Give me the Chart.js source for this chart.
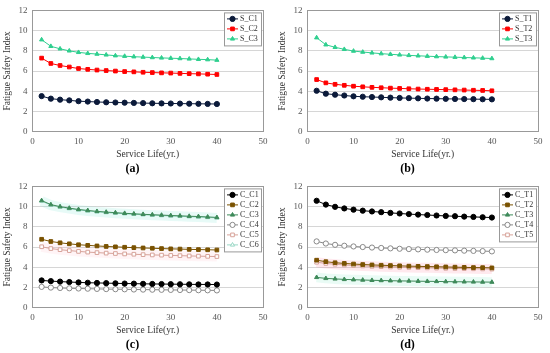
<!DOCTYPE html>
<html>
<head>
<meta charset="utf-8">
<script src="https://cdn.jsdelivr.net/npm/chart.js@4"></script>
<style>
  body { margin: 0; background: #fff; }
  #grid { display: grid; grid-template-columns: 275px 275px; grid-template-rows: 176px 177px; width: 550px; height: 353px; }
  .cell { position: relative; width: 275px; height: 176px; }
</style>
</head>
<body>
<div id="grid">
  <div class="cell"><canvas id="ca" width="275" height="176"></canvas></div>
  <div class="cell"><canvas id="cb" width="275" height="176"></canvas></div>
  <div class="cell"><canvas id="cc" width="275" height="176"></canvas></div>
  <div class="cell"><canvas id="cd" width="275" height="176"></canvas></div>
</div>
<script>
// service life (yr.)
const years = [2, 4, 6, 8, 10, 12, 14, 16, 18, 20, 22, 24, 26, 28, 30, 32, 34, 36, 38, 40];
const yTicks = [0, 2, 4, 6, 8, 10, 12];
const xTicks = [0, 10, 20, 30, 40, 50];

// (a)
const S_C1 = [3.52, 3.27, 3.17, 3.1, 3.02, 2.98, 2.94, 2.91, 2.89, 2.87, 2.85, 2.83, 2.81, 2.8, 2.79, 2.78, 2.77, 2.76, 2.75, 2.74];
const S_C2 = [7.28, 6.75, 6.55, 6.4, 6.25, 6.17, 6.1, 6.05, 6.0, 5.95, 5.92, 5.88, 5.85, 5.82, 5.8, 5.77, 5.74, 5.72, 5.69, 5.66];
const S_C3 = [9.1, 8.45, 8.2, 8.0, 7.85, 7.75, 7.68, 7.6, 7.52, 7.47, 7.42, 7.38, 7.34, 7.3, 7.27, 7.24, 7.2, 7.16, 7.13, 7.08];
// (b)
const S_T1 = [4.05, 3.76, 3.66, 3.58, 3.5, 3.46, 3.43, 3.4, 3.37, 3.34, 3.32, 3.3, 3.28, 3.27, 3.25, 3.24, 3.23, 3.22, 3.21, 3.2];
const S_T2 = [5.16, 4.83, 4.69, 4.59, 4.5, 4.44, 4.39, 4.35, 4.31, 4.28, 4.25, 4.22, 4.2, 4.18, 4.16, 4.14, 4.12, 4.1, 4.08, 4.05];
const S_T3 = [9.3, 8.6, 8.35, 8.15, 7.98, 7.88, 7.8, 7.72, 7.66, 7.6, 7.55, 7.51, 7.47, 7.43, 7.4, 7.37, 7.34, 7.31, 7.28, 7.24];
// (c)
const C_C1 = [2.7, 2.63, 2.58, 2.54, 2.5, 2.47, 2.45, 2.43, 2.41, 2.39, 2.38, 2.36, 2.35, 2.34, 2.33, 2.32, 2.31, 2.3, 2.3, 2.29];
const C_C2 = [6.77, 6.55, 6.42, 6.32, 6.23, 6.17, 6.11, 6.06, 6.02, 5.98, 5.94, 5.91, 5.88, 5.85, 5.82, 5.8, 5.77, 5.75, 5.73, 5.71];
const C_C3 = [10.6, 10.2, 10.0, 9.85, 9.72, 9.62, 9.53, 9.46, 9.4, 9.34, 9.29, 9.24, 9.2, 9.16, 9.12, 9.09, 9.05, 9.02, 8.98, 8.93];
const C_C4 = [2.06, 1.99, 1.95, 1.92, 1.9, 1.88, 1.86, 1.84, 1.83, 1.82, 1.8, 1.79, 1.78, 1.77, 1.76, 1.75, 1.74, 1.73, 1.72, 1.71];
const C_C5 = [6.03, 5.85, 5.74, 5.65, 5.57, 5.5, 5.45, 5.4, 5.36, 5.32, 5.29, 5.25, 5.22, 5.2, 5.17, 5.15, 5.12, 5.1, 5.08, 5.06];
const C_C6 = [10.55, 10.15, 9.95, 9.8, 9.67, 9.57, 9.48, 9.41, 9.35, 9.29, 9.24, 9.19, 9.15, 9.11, 9.07, 9.04, 9.0, 8.97, 8.93, 8.88];
// (d)
const C_T1 = [10.58, 10.2, 9.98, 9.82, 9.7, 9.6, 9.52, 9.45, 9.38, 9.32, 9.26, 9.21, 9.17, 9.12, 9.08, 9.05, 9.01, 8.98, 8.95, 8.92];
const C_T2 = [4.7, 4.55, 4.45, 4.38, 4.32, 4.27, 4.23, 4.2, 4.17, 4.14, 4.11, 4.09, 4.07, 4.05, 4.03, 4.01, 3.99, 3.97, 3.96, 3.94];
const C_T3 = [3.0, 2.9, 2.85, 2.8, 2.77, 2.74, 2.71, 2.69, 2.67, 2.65, 2.64, 2.62, 2.61, 2.6, 2.58, 2.57, 2.56, 2.55, 2.54, 2.53];
const C_T4 = [6.56, 6.35, 6.22, 6.13, 6.06, 6.0, 5.95, 5.91, 5.87, 5.83, 5.8, 5.77, 5.74, 5.71, 5.69, 5.67, 5.64, 5.62, 5.6, 5.57];
const C_T5 = [4.5, 4.38, 4.3, 4.23, 4.17, 4.13, 4.09, 4.06, 4.03, 4.0, 3.98, 3.96, 3.94, 3.92, 3.9, 3.88, 3.87, 3.85, 3.84, 3.82];

const serif = "'Liberation Serif', 'DejaVu Serif', serif";

function pts(vals) {
  return vals.map((v, i) => ({ x: years[i], y: v }));
}

// legend box drawn inside the plot area, top right (Excel style)
const boxLegend = {
  id: "boxLegend",
  afterDraw(chart) {
    const ctx = chart.ctx;
    const area = chart.chartArea;
    const items = chart.data.datasets.filter((d) => !d.band);
    const rowH = 10;
    const w = 37, h = items.length * rowH + 3;
    const x0 = area.right - w - 2, y0 = area.top + 2;
    ctx.save();
    ctx.fillStyle = "#fff";
    ctx.fillRect(x0, y0, w, h);
    ctx.strokeStyle = "#999";
    ctx.lineWidth = 1;
    ctx.strokeRect(x0 + 0.5, y0 + 0.5, w, h);
    ctx.font = "8px " + serif;
    ctx.textBaseline = "middle";
    items.forEach((d, i) => {
      const cy = y0 + 6.5 + i * rowH;
      ctx.strokeStyle = d.borderColor;
      ctx.beginPath();
      ctx.moveTo(x0 + 3, cy);
      ctx.lineTo(x0 + 14, cy);
      ctx.stroke();
      ctx.fillStyle = d.pointBackgroundColor;
      ctx.strokeStyle = d.pointBorderColor;
      Chart.helpers.drawPoint(ctx, {
        pointStyle: d.pointStyle, radius: d.pointRadius, rotation: 0, borderWidth: 1
      }, x0 + 8.5, cy);
      ctx.fillStyle = "#333";
      ctx.fillText(d.label, x0 + 16, cy);
    });
    ctx.restore();
  }
};

function series(label, vals, color, style, open, fillColor) {
  return {
    label: label,
    data: pts(vals),
    borderColor: color,
    borderWidth: 1,
    pointStyle: style,
    pointRadius: style === "triangle" ? 2.4 : 2.6,
    pointBackgroundColor: open ? "#fff" : (fillColor || color),
    pointBorderColor: fillColor || color,
    pointBorderWidth: 1,
    order: 1
  };
}

function band(vals, color) {
  return {
    label: "",
    band: true,
    data: pts(vals),
    borderColor: color,
    borderWidth: 10,
    pointRadius: 0,
    order: 10
  };
}

function makeChart(id, tag, datasets) {
  return new Chart(document.getElementById(id), {
    type: "line",
    data: { datasets: datasets },
    options: {
      responsive: false,
      animation: false,
      layout: { padding: { top: 6, right: 12, left: 2, bottom: 0 } },
      scales: {
        x: {
          type: "linear",
          min: 0, max: 50,
          afterBuildTicks: (s) => { s.ticks = xTicks.map((v) => ({ value: v })); },
          grid: { display: false, drawTicks: true, tickLength: 3, color: "#999" },
          border: { color: "#999" },
          ticks: { color: "#555", font: { family: serif, size: 9 }, padding: 2, maxRotation: 0 },
          title: { display: true, text: "Service Life(yr.)", color: "#333", font: { family: serif, size: 9.5, lineHeight: 1 }, padding: { top: 0, bottom: 4 } }
        },
        y: {
          min: 0, max: 12,
          afterBuildTicks: (s) => { s.ticks = yTicks.map((v) => ({ value: v })); },
          grid: { color: "#d6d6d6", drawTicks: false },
          border: { color: "#999" },
          ticks: { color: "#555", font: { family: serif, size: 9 }, padding: 5 },
          title: { display: true, text: "Fatigue Safety Index", color: "#333", font: { family: serif, size: 9.5 }, padding: { top: 0, bottom: 0 } }
        }
      },
      plugins: {
        legend: { display: false },
        tooltip: { enabled: false },
        title: {
          display: true, position: "bottom", text: tag, color: "#000",
          font: { family: serif, size: 12, weight: "bold", lineHeight: 1 }, padding: { top: 0, bottom: 1 }
        }
      }
    },
    plugins: [
      boxLegend,
      {
        id: "frame",
        afterDatasetsDraw(chart) {
          const a = chart.chartArea, ctx = chart.ctx;
          ctx.save();
          ctx.strokeStyle = "#999";
          ctx.lineWidth = 1;
          ctx.strokeRect(Math.round(a.left) + 0.5, Math.round(a.top) + 0.5, Math.round(a.right - a.left), Math.round(a.bottom - a.top));
          ctx.restore();
        }
      }
    ]
  });
}

const NAVY = "#0b1a3a", RED = "#ff0000", GREEN = "#2fcf8f";
const BROWN = "#7a5200", DKGREEN = "#3e8a5a", GRAY = "#888888", PINK = "#d7a39a", TEAL = "#9ad8c6";

makeChart("ca", "(a)", [
  series("S_C1", S_C1, NAVY, "circle"),
  series("S_C2", S_C2, RED, "rect"),
  series("S_C3", S_C3, GREEN, "triangle")
]);
makeChart("cb", "(b)", [
  series("S_T1", S_T1, NAVY, "circle"),
  series("S_T2", S_T2, RED, "rect"),
  series("S_T3", S_T3, GREEN, "triangle")
]);
makeChart("cc", "(c)", [
  series("C_C1", C_C1, "#000", "circle"),
  series("C_C2", C_C2, BROWN, "rect"),
  series("C_C3", C_C3, DKGREEN, "triangle"),
  series("C_C4", C_C4, GRAY, "circle", true),
  series("C_C5", C_C5, PINK, "rect", true),
  series("C_C6", C_C6, TEAL, "triangle", true),
  band(C_C5, "rgba(255,150,170,0.10)"),
  band(C_C6, "rgba(120,230,210,0.18)")
]);
makeChart("cd", "(d)", [
  series("C_T1", C_T1, "#000", "circle"),
  series("C_T2", C_T2, BROWN, "rect"),
  series("C_T3", C_T3, DKGREEN, "triangle"),
  series("C_T4", C_T4, GRAY, "circle", true),
  series("C_T5", C_T5, PINK, "rect", true),
  band(C_T5, "rgba(255,120,150,0.16)"),
  band(C_T3, "rgba(120,230,190,0.16)")
]);
</script>
</body>
</html>
